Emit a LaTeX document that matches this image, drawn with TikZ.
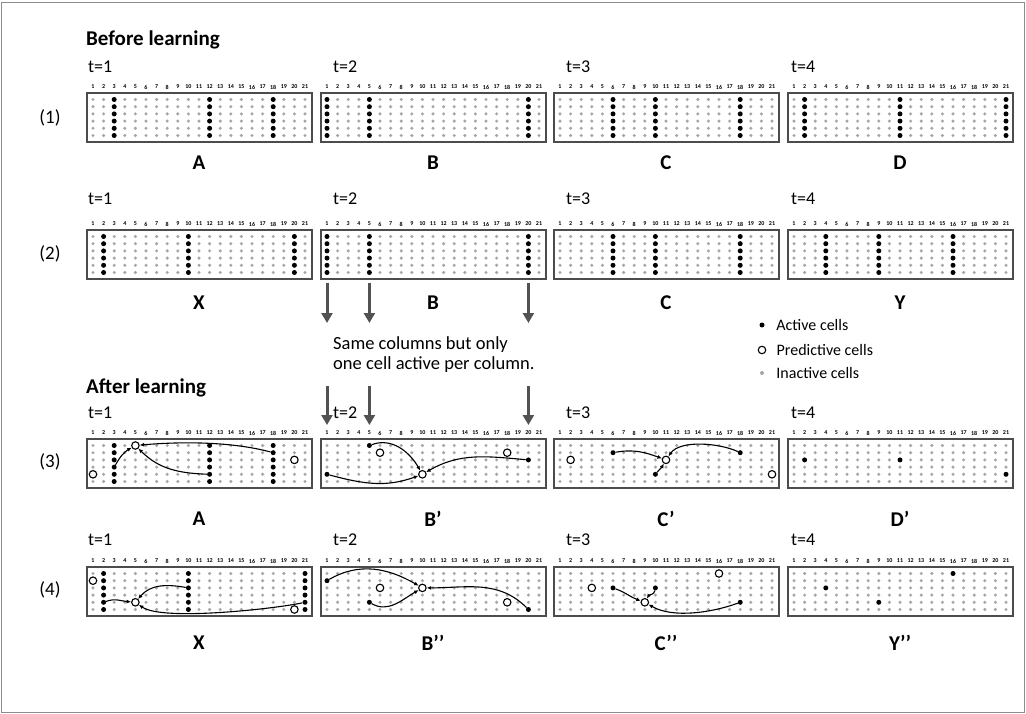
\documentclass[tikz,border=0pt]{standalone}
\usepackage{fontspec}
\setmainfont{Carlito}
\usetikzlibrary{arrows.meta,positioning}

\begin{document}
\begin{tikzpicture}[x=1pt,y=-1pt,
    cell/.style={circle,fill=black!35,inner sep=0pt,minimum size=3.4pt},
    on/.style={circle,fill=black,inner sep=0pt,minimum size=5pt},
    pred/.style={circle,draw=black,line width=1.1pt,fill=white,inner sep=0pt,minimum size=7.5pt},
    link/.style={line width=1.1pt,-{Latex[length=4.5pt,width=4pt]}},
    region/.style={draw=black!70,line width=2pt},
    colnum/.style={font=\fontsize{6}{6}\bfseries\selectfont,inner sep=0pt},
    tlabel/.style={font=\fontsize{18}{20}\selectfont,anchor=west,inner sep=0pt},
    pname/.style={font=\fontsize{21}{24}\bfseries\selectfont,inner sep=0pt},
    rowlab/.style={font=\fontsize{19}{22}\selectfont,inner sep=0pt},
    heading/.style={font=\fontsize{21}{24}\bfseries\selectfont,anchor=west,inner sep=0pt},
    legtext/.style={font=\fontsize{16}{19}\selectfont,anchor=west,inner sep=0pt},
    note/.style={font=\fontsize{18.5}{20}\selectfont,anchor=west,align=left,inner sep=0pt},
    bigarrow/.style={draw=black!68,line width=3pt,-{Triangle[length=10pt,width=11pt]}}
  ]
    \useasboundingbox (0,0) rectangle (1026,714);
    \draw[black!45,line width=1.5pt] (1.5,2.5) rectangle (1024.5,712.5);

    % headings
    \node[heading] (before) at (86,40) {Before learning};
    \node[heading] (after) at (86,388) {After learning};

    % all 16 layers: frame, column numbers, inactive cells
    \foreach \py [count=\i] in {93,230,439,567} {
      \foreach \px [count=\j] in {87,321,554,788} {
        \draw[region] (\px,\py) rectangle ++(225,49);
        \foreach \c in {1,...,21} {
          \node[colnum] (n\i\j-\c) at ({\px+6+(\c-1)*10.6},\py-6) {\c};
          \foreach \r in {1,...,6}
            \node[cell] (c\i\j-\c-\r) at ({\px+6+(\c-1)*10.6},{\py+6.5+(\r-1)*7.2}) {};
        }
      }
    }

    % row labels and time steps
    \foreach \i/\y in {1/118,2/254,3/462,4/590}
      \node[rowlab] (row\i) at (50,\y) {(\i)};
    \foreach \i/\y in {1/67,2/199,3/413,4/540}
      \foreach \j/\px in {1/88,2/333,3/566,4/791}
        \node[tlabel] (t\i\j) at (\px,\y) {t=\j};

    % sequence names
    \foreach \i/\y/\names in {1/163/{A,B,C,D},2/303/{X,B,C,Y},
        3/519/{A,B’,C’,D’},4/643/{X,B’’,C’’,Y’’}}
      \foreach \n [count=\j] in \names
        \node[pname] (name\i\j) at (c\i\j-11-1 |- 0,\y) {\n};

    % whole columns active
    \foreach \i/\j/\cols in {1/1/{3,12,18},1/2/{1,5,20},1/3/{6,10,18},1/4/{2,11,21},
        2/1/{2,10,20},2/2/{1,5,20},2/3/{6,10,18},2/4/{4,9,16},
        3/1/{3,12,18},4/1/{2,10,21}}
      \foreach \c in \cols
        \foreach \r in {1,...,6}
          \node[on] (a\i\j-\c-\r) at (c\i\j-\c-\r) {};

    % one active cell per column
    \foreach \i/\j/\c/\r in {3/2/1/5,3/2/5/1,3/2/20/3, 3/3/6/2,3/3/10/5,3/3/18/2,
        3/4/2/3,3/4/11/3,3/4/21/5, 4/2/1/2,4/2/5/5,4/2/20/6,
        4/3/6/3,4/3/10/3,4/3/18/5, 4/4/4/3,4/4/9/5,4/4/16/1}
      \node[on] (a\i\j-\c-\r) at (c\i\j-\c-\r) {};

    % predictive cells
    \foreach \i/\j/\c/\r in {3/1/1/5,3/1/5/1,3/1/20/3, 3/2/6/2,3/2/10/5,3/2/18/2,
        3/3/2/3,3/3/11/3,3/3/21/5, 4/1/1/2,4/1/5/5,4/1/20/6,
        4/2/6/3,4/2/10/3,4/2/18/5, 4/3/4/3,4/3/9/5,4/3/16/1}
      \node[pred] (p\i\j-\c-\r) at (c\i\j-\c-\r) {};

    % A
    \draw[link] (a31-3-4) to[out=60,in=-150] (p31-5-1);
    \draw[link] (a31-12-5) to[out=178,in=-45] (p31-5-1);
    \draw[link] (a31-18-2) to[out=165,in=5,looseness=0.8] (p31-5-1);
    % B'
    \draw[link] (a32-5-1) to[out=20,in=120] (p32-10-5);
    \draw[link] (a32-1-5) to[out=-15,in=-160] (p32-10-5);
    \draw[link] (a32-20-3) to[out=175,in=30] (p32-10-5);
    % C'
    \draw[link] (a33-6-2) to[out=10,in=160] (p33-11-3);
    \draw[link] (a33-10-5) to[out=50,in=-120] (p33-11-3);
    \draw[link] (a33-18-2) to[out=155,in=55,looseness=0.75] (p33-11-3);
    % X
    \draw[link] (a41-2-5) to[out=20,in=175] (p41-5-5);
    \draw[link] (a41-10-3) to[out=170,in=50] (p41-5-5);
    \draw[link] (a41-21-5) to[out=-168,in=-35,looseness=0.45] (p41-5-5);
    % B''
    \draw[link] (a42-1-2) to[out=30,in=150] (p42-10-3);
    \draw[link] (a42-5-5) to[out=-30,in=-150] (p42-10-3);
    \draw[link] (a42-20-6) to[out=135,in=0] (p42-10-3);
    % C''
    \draw[link] (a43-6-3) to[out=-20,in=160] (p43-9-5);
    \draw[link] (a43-10-3) to[out=-100,in=60] (p43-9-5);
    \draw[link] (a43-18-5) to[out=-160,in=-30,looseness=0.8] (p43-9-5);

    % same columns arrows
    \foreach \c in {1,5,20} {
      \coordinate (ga\c) at (c22-\c-1 |- 0,283);
      \coordinate (gb\c) at (c22-\c-1 |- 0,323);
      \coordinate (gc\c) at (c22-\c-1 |- 0,386);
      \coordinate (gd\c) at (c22-\c-1 |- 0,425);
      \draw[bigarrow] (ga\c) -- (gb\c);
      \draw[bigarrow] (gc\c) -- (gd\c);
    }
    \node[note] (same) at (333,355) {Same columns but only\\one cell active per column.};

    % legend
    \node[on] (leg1) at (762,325) {};
    \node[pred] (leg2) at (762,350) {};
    \node[cell,minimum size=4pt] (leg3) at (762,373) {};
    \node[legtext,right=11.5pt of leg1] (legt1) {Active cells};
    \node[legtext,right=10.2pt of leg2] (legt2) {Predictive cells};
    \node[legtext,right=12pt of leg3] (legt3) {Inactive cells};
\end{tikzpicture}
\end{document}
